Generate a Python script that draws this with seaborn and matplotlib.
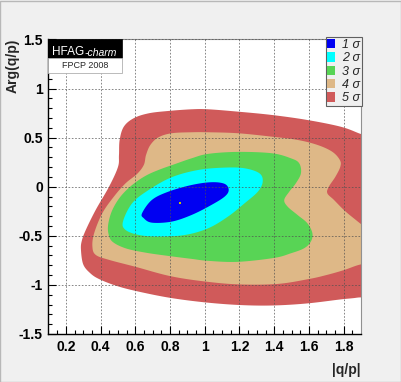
import numpy as np
import matplotlib
matplotlib.use("Agg")
import matplotlib.pyplot as plt
import seaborn as sns
from matplotlib.patches import Patch, Rectangle
from matplotlib.text import Annotation

# contour outlines, (|q/p|, Arg(q/p))
red_x = [0.287, 0.292, 0.315, 0.372, 0.449, 0.50, 0.506, 0.51, 0.534, 0.591, 0.677, 0.791,
         0.925, 1.02, 1.191, 1.387, 1.591, 1.782, 1.887, 1.96, 2.02, 2.02, 1.96, 1.877,
         1.782, 1.582, 1.382, 1.191, 0.991, 0.791, 0.601, 0.487, 0.391, 0.34, 0.30]
red_y = [-0.64, -0.55, -0.44, -0.236, 0.001, 0.20, 0.32, 0.477, 0.612, 0.698, 0.748, 0.772,
         0.789, 0.789, 0.765, 0.731, 0.68, 0.612, 0.545, 0.49, 0.3, -0.9, -1.10, -1.13,
         -1.148, -1.19, -1.21, -1.204, -1.176, -1.129, -1.061, -1.007, -0.94, -0.88, -0.79]

tan_x = [0.353, 0.363, 0.41, 0.477, 0.544, 0.61, 0.649, 0.662, 0.687, 0.734, 0.81, 0.925,
         1.02, 1.191, 1.387, 1.534, 1.649, 1.734, 1.778, 1.781, 1.753, 1.715, 1.706, 1.744,
         1.801, 1.858, 1.934, 2.02, 2.02, 1.95, 1.88, 1.80, 1.70, 1.60, 1.42, 1.2, 1.0,
         0.8, 0.6, 0.449, 0.372]
tan_y = [-0.61, -0.474, -0.27, -0.10, 0.035, 0.13, 0.222, 0.324, 0.426, 0.504, 0.545, 0.555,
         0.555, 0.545, 0.51, 0.477, 0.426, 0.357, 0.273, 0.205, 0.103, 0.001, -0.066, -0.134,
         -0.236, -0.321, -0.423, -0.5, -0.72, -0.77, -0.80, -0.85, -0.90, -0.94, -0.99, -0.995, -0.965,
         -0.91, -0.815, -0.745, -0.694]

green_x = [0.445, 0.445, 0.468, 0.515, 0.582, 0.658, 0.734, 0.83, 0.925, 1.02, 1.191, 1.387,
           1.496, 1.544, 1.554, 1.525, 1.487, 1.458, 1.477, 1.534, 1.591, 1.62, 1.611, 1.572,
           1.496, 1.40, 1.191, 1.02, 0.925, 0.791, 0.658, 0.544, 0.468]
green_y = [-0.474, -0.372, -0.236, -0.10, 0.018, 0.11, 0.171, 0.232, 0.29, 0.335, 0.355, 0.341,
           0.290, 0.239, 0.137, 0.036, -0.05, -0.134, -0.202, -0.287, -0.372, -0.474, -0.559, -0.627,
           -0.678, -0.725, -0.765, -0.755, -0.735, -0.705, -0.671, -0.627, -0.559]

cyan_x = [0.529, 0.582, 0.677, 0.81, 0.963, 1.115, 1.23, 1.315, 1.334, 1.306, 1.23, 1.134,
          1.02, 0.887, 0.734, 0.62, 0.544]
cyan_y = [-0.355, -0.168, -0.033, 0.097, 0.171, 0.195, 0.188, 0.137, 0.052, -0.05, -0.168, -0.304,
          -0.423, -0.491, -0.508, -0.491, -0.44]

blue_x = [0.639, 0.696, 0.791, 0.925, 1.039, 1.115, 1.138, 1.115, 1.039, 0.925, 0.81, 0.696, 0.649]
blue_y = [-0.27, -0.134, -0.05, 0.018, 0.046, 0.029, -0.033, -0.10, -0.185, -0.287, -0.355, -0.366, -0.321]

best_x = [0.86]
best_y = [-0.162]

levels = ["5", "4", "3", "2", "1"]
colors = ["#d05a5a", "#deb887", "#58d455", "#00ffff", "#0000f2"]

x_ticks = [0.2, 0.4, 0.6, 0.8, 1.0, 1.2, 1.4, 1.6, 1.8]
x_labels = ["0.2", "0.4", "0.6", "0.8", "1", "1.2", "1.4", "1.6", "1.8"]
y_ticks = [-1.5, -1.0, -0.5, 0.0, 0.5, 1.0, 1.5]
y_labels = ["-1.5", "-1", "-0.5", "0", "0.5", "1", "1.5"]


def smooth(xs, ys, n=16):
    # closed catmull-rom through the read points
    P = np.column_stack([xs, ys])
    N = len(P)
    t = np.linspace(0, 1, n, endpoint=False)[:, None]
    out = []
    for i in range(N):
        p0, p1, p2, p3 = P[i - 1], P[i], P[(i + 1) % N], P[(i + 2) % N]
        out.append(0.5 * (2 * p1 + (-p0 + p2) * t + (2 * p0 - 5 * p1 + 4 * p2 - p3) * t ** 2
                          + (-p0 + 3 * p1 - 3 * p2 + p3) * t ** 3))
    return np.vstack(out)


sns.set_theme(style="white")
plt.rcParams["font.family"] = ["Liberation Sans", "DejaVu Sans"]
plt.rcParams["axes.edgecolor"] = "black"

fig = plt.figure(figsize=(4.02, 3.82), dpi=100, facecolor="#f0f0f0")
ax = fig.add_axes([0.1206, 0.1257, 0.7774, 0.7709])
ax.set_facecolor("white")

outlines = [(red_x, red_y), (tan_x, tan_y), (green_x, green_y), (cyan_x, cyan_y), (blue_x, blue_y)]
for (xs, ys), c in zip(outlines, colors):
    pts = smooth(xs, ys)
    ax.fill(pts[:, 0], pts[:, 1], color=c, lw=0, zorder=1)

sns.scatterplot(x=best_x, y=best_y, ax=ax, marker="s", s=3, color="#c8c800", linewidth=0, zorder=3)

ax.set_xlim(0.1, 1.9)
ax.set_ylim(-1.5, 1.5)
ax.set_xticks(x_ticks)
ax.set_xticklabels(x_labels)
ax.set_yticks(y_ticks)
ax.set_yticklabels(y_labels)
ax.set_xticks(np.arange(0.15, 1.9, 0.05), minor=True)
ax.set_yticks(np.arange(-1.4, 1.5, 0.1), minor=True)
ax.tick_params(which="both", direction="in", top=False, right=False, bottom=True, left=True,
               labelsize=10, pad=4, colors="black", width=0.8)
ax.tick_params(which="major", length=6)
ax.tick_params(which="minor", length=3)
for lab in ax.get_xticklabels() + ax.get_yticklabels():
    lab.set_fontweight("bold")

ax.set_axisbelow(False)
ax.grid(True, which="major", color="#505050", lw=0.6, linestyle=(0, (2, 2)), alpha=0.8)
for s in ["left", "bottom"]:
    ax.spines[s].set_color("black")
    ax.spines[s].set_linewidth(1.0)
for s in ["top", "right"]:
    ax.spines[s].set_color("#909090")
    ax.spines[s].set_linewidth(0.8)

fig.text(0.898, 0.031, "|q/p|", ha="right", va="center", fontsize=10, fontweight="bold")
fig.text(0.032, 0.90, "Arg(q/p)", rotation=90, ha="center", va="top", fontsize=10, fontweight="bold")

# HFAG label box
fig.patches.append(Rectangle((0.1201, 0.849), 0.184, 0.049, transform=fig.transFigure,
                             facecolor="black", edgecolor="black", lw=0.5, zorder=5))
fig.patches.append(Rectangle((0.1201, 0.8097), 0.184, 0.0393, transform=fig.transFigure,
                             facecolor="white", edgecolor="#b0b0b0", lw=0.6, zorder=5))
t = fig.text(0.129, 0.857, "HFAG", color="white", fontsize=8.5, zorder=6)
fig.add_artist(Annotation("-charm", xy=(1, 0), xycoords=t, color="white", fontsize=7.5,
                          style="italic", va="bottom", zorder=7))
fig.text(0.212, 0.8295, "FPCP 2008", ha="center", va="center", fontsize=6.5, zorder=6)

handles = [Patch(facecolor=c, edgecolor="none") for c in colors[::-1]]
labels = [f"{lv} σ" for lv in levels[::-1]]
leg = fig.legend(handles, labels, loc="upper right", bbox_to_anchor=(0.8998, 0.9024),
                 frameon=True, fancybox=False, edgecolor="#606060", facecolor="#f0f0f0",
                 framealpha=1, borderaxespad=0, borderpad=0.12, handlelength=0.65,
                 handleheight=0.8, handletextpad=0.55, labelspacing=0.1,
                 prop={"size": 9, "style": "italic", "family": ["Liberation Sans", "DejaVu Sans"]})
leg.get_frame().set_linewidth(0.8)
leg.set_zorder(6)

fig.patches.append(Rectangle((0.001, 0.001), 0.997, 0.997, transform=fig.transFigure,
                             facecolor="none", edgecolor="#b8b8b8", lw=1.0))

fig.savefig("out.png", dpi=100, facecolor=fig.get_facecolor())
